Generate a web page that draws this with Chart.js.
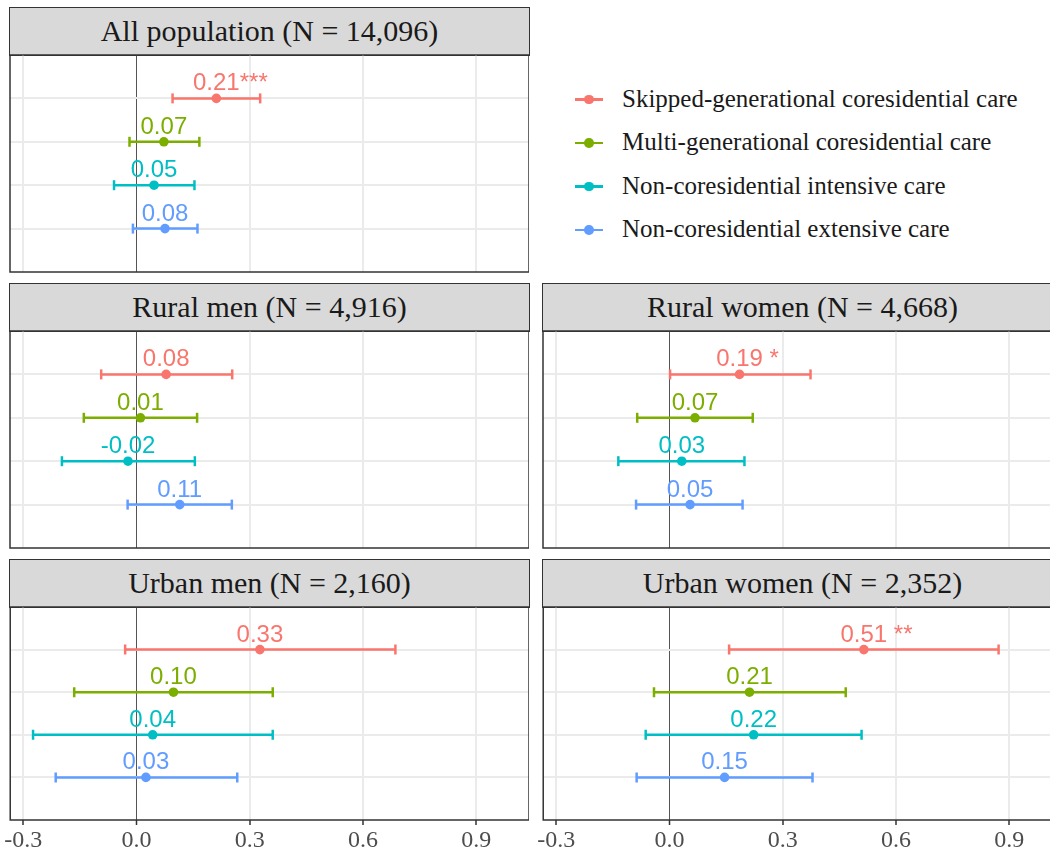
<!DOCTYPE html>
<html>
<head>
<meta charset="utf-8">
<script src="https://cdn.jsdelivr.net/npm/chart.js@4.4.1/dist/chart.umd.min.js"></script>
<style>
  html, body { margin: 0; padding: 0; background: #fff; }
  body { width: 1050px; height: 857px; position: relative; overflow: hidden; }
  .strip {
    position: absolute; box-sizing: border-box; background: #D9D9D9;
    border: 1.5px solid #333; text-align: center; color: #1A1A1A;
    font: 30px "Liberation Serif", serif; line-height: 44px; padding-top: 1px;
  }
  canvas.panel { position: absolute; }
  .legRow { position: absolute; left: 575px; height: 44px; white-space: nowrap;
    font: 25px "Liberation Serif", serif; line-height: 44px; color: #1A1A1A; }
  .legKey { position: absolute; left: 0; top: 20.5px; width: 28px; height: 2.5px; }
  .legDot { position: absolute; left: 9px; top: -3.5px; width: 9.5px; height: 9.5px; border-radius: 50%; }
  .legText { position: absolute; left: 47px; top: -1px; line-height: 44px; }
</style>
</head>
<body>
<script>
// care types, drawn top to bottom in every panel
const seriesNames = [
  'Skipped-generational coresidential care',
  'Multi-generational coresidential care',
  'Non-coresidential intensive care',
  'Non-coresidential extensive care'
];
const seriesColors = ['#F8766D', '#7CAE00', '#00BFC4', '#619CFF'];
const rows = [1, 2, 3, 4];
const xTicks = [-0.3, 0, 0.3, 0.6, 0.9];

const panelTitles = [
  'All population (N = 14,096)',
  'Rural men (N = 4,916)',
  'Rural women (N = 4,668)',
  'Urban men (N = 2,160)',
  'Urban women (N = 2,352)'
];

// point estimates and CI bounds, one row per panel, one column per care type
const estimates = [
  [0.212, 0.073, 0.047, 0.076],
  [0.079, 0.011, -0.022, 0.115],
  [0.186, 0.068, 0.033, 0.055],
  [0.327, 0.098, 0.043, 0.025],
  [0.515, 0.212, 0.223, 0.146]
];
const lowers = [
  [0.096, -0.018, -0.059, -0.009],
  [-0.093, -0.139, -0.197, -0.023],
  [0.002, -0.085, -0.135, -0.088],
  [-0.030, -0.165, -0.274, -0.214],
  [0.158, -0.041, -0.063, -0.087]
];
const uppers = [
  [0.328, 0.167, 0.154, 0.162],
  [0.254, 0.161, 0.155, 0.253],
  [0.374, 0.221, 0.199, 0.194],
  [0.686, 0.361, 0.361, 0.267],
  [0.872, 0.467, 0.509, 0.379]
];
const valueLabels = [
  ['0.21', '0.07', '0.05', '0.08'],
  ['0.08', '0.01', '-0.02', '0.11'],
  ['0.19', '0.07', '0.03', '0.05'],
  ['0.33', '0.10', '0.04', '0.03'],
  ['0.51', '0.21', '0.22', '0.15']
];
const starLabels = [
  ['***', '', '', ''],
  ['', '', '', ''],
  [' *', '', '', ''],
  ['', '', '', ''],
  [' **', '', '', '']
];

// panel placement on the page
const boxes = [
  { left: 10, top: 7, w: 519, axis: false },
  { left: 10, top: 283, w: 519, axis: false },
  { left: 543, top: 283, w: 519, axis: false },
  { left: 10, top: 559, w: 519, axis: true },
  { left: 543, top: 559, w: 519, axis: true }
];
const STRIP_H = 48, PLOT_H = 217, AXIS_H = 33;

const panelBorder = {
  id: 'panelBorder',
  afterDraw(chart) {
    const { ctx, chartArea: a } = chart;
    ctx.save();
    ctx.strokeStyle = '#333333';
    ctx.lineWidth = 1.5;
    ctx.strokeRect(a.left, a.top, a.right - a.left, a.bottom - a.top);
    ctx.restore();
  }
};

const valueText = {
  id: 'valueText',
  afterDatasetsDraw(chart, args, opts) {
    const { ctx, scales: { x, y } } = chart;
    const p = opts.panel;
    ctx.save();
    ctx.font = '24px "Liberation Sans", Arial, sans-serif';
    ctx.textBaseline = 'alphabetic';
    rows.forEach((r, i) => {
      const px = x.getPixelForValue(estimates[p][i]);
      const py = y.getPixelForValue(r) - 8;
      ctx.fillStyle = seriesColors[i];
      ctx.textAlign = 'center';
      ctx.fillText(valueLabels[p][i], px, py);
      if (starLabels[p][i]) {
        const w = ctx.measureText(valueLabels[p][i]).width;
        ctx.textAlign = 'left';
        ctx.fillText(starLabels[p][i], px + w / 2, py);
      }
    });
    ctx.restore();
  }
};

function isZero(c) { return c.tick && Math.abs(c.tick.value) < 1e-9; }

boxes.forEach((b, p) => {
  const strip = document.createElement('div');
  strip.className = 'strip';
  strip.style.left = (b.left - 1) + 'px';
  strip.style.top = b.top + 'px';
  strip.style.width = (b.w + 2) + 'px';
  strip.style.height = (STRIP_H + 1) + 'px';
  strip.textContent = panelTitles[p];
  document.body.appendChild(strip);

  const cv = document.createElement('canvas');
  cv.className = 'panel';
  cv.width = b.w + 10;
  cv.height = PLOT_H + 2 + (b.axis ? AXIS_H : 0);
  cv.style.left = (b.left - 10) + 'px';
  cv.style.top = (b.top + STRIP_H - 1) + 'px';
  document.body.appendChild(cv);

  const datasets = [];
  rows.forEach((r, i) => {
    datasets.push({
      data: [{ x: estimates[p][i], y: r }],
      backgroundColor: seriesColors[i],
      pointRadius: 4.8, pointBorderWidth: 0, order: 0
    });
    datasets.push({
      data: [{ x: lowers[p][i], y: r }, { x: uppers[p][i], y: r }],
      showLine: true, borderColor: seriesColors[i], borderWidth: 2.5,
      pointStyle: 'line', pointRotation: 90, pointRadius: 5,
      pointBorderWidth: 2.5, pointBorderColor: seriesColors[i], order: 1
    });
  });

  new Chart(cv.getContext('2d'), {
    type: 'scatter',
    data: { datasets },
    options: {
      responsive: false,
      animation: false,
      events: [],
      layout: { padding: { left: 10, right: 0, top: 1, bottom: 1 }, autoPadding: false },
      plugins: { legend: { display: false }, tooltip: { enabled: false }, valueText: { panel: p } },
      scales: {
        x: {
          type: 'linear', min: -0.3345, max: 1.04,
          afterBuildTicks: s => { s.ticks = xTicks.map(v => ({ value: v })); },
          ticks: {
            display: b.axis, autoSkip: false, maxRotation: 0, padding: 4, color: '#4D4D4D',
            font: { family: '"Liberation Serif", serif', size: 24, lineHeight: 1 },
            callback: v => Number(v).toFixed(1)
          },
          grid: {
            color: c => isZero(c) ? '#555555' : '#EBEBEB',
            lineWidth: c => isZero(c) ? 1 : 2,
            drawTicks: b.axis, tickLength: 5, tickColor: '#333333', tickWidth: 1.5
          },
          border: { display: false }
        },
        y: {
          type: 'linear', min: 0, max: 5, reverse: true, z: -1,
          afterBuildTicks: s => { s.ticks = rows.map(v => ({ value: v })); },
          ticks: { display: false },
          grid: { color: '#EBEBEB', lineWidth: 2, drawTicks: false },
          border: { display: false }
        }
      }
    },
    plugins: [valueText, panelBorder]
  });
});

// legend to the right of the first panel
seriesNames.forEach((name, i) => {
  const row = document.createElement('div');
  row.className = 'legRow';
  row.style.top = (99.5 + 43.5 * i - 22) + 'px';
  const key = document.createElement('div');
  key.className = 'legKey';
  key.style.background = seriesColors[i];
  const dot = document.createElement('div');
  dot.className = 'legDot';
  dot.style.background = seriesColors[i];
  key.appendChild(dot);
  const txt = document.createElement('span');
  txt.className = 'legText';
  txt.textContent = name;
  row.appendChild(key);
  row.appendChild(txt);
  document.body.appendChild(row);
});
</script>
</body>
</html>
